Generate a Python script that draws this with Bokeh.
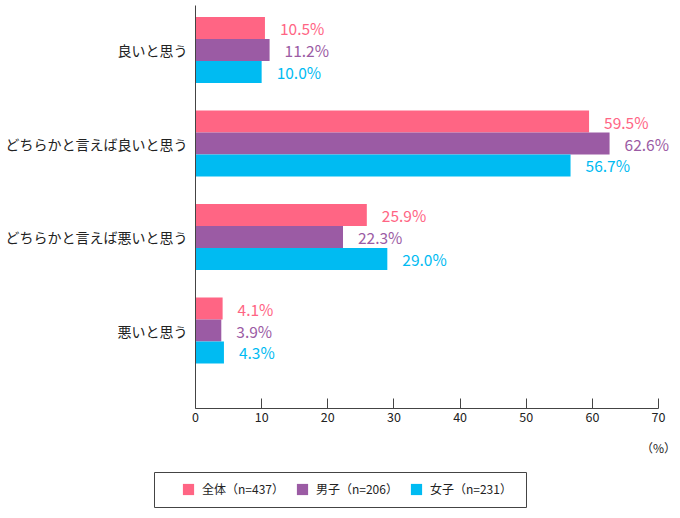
from bokeh.plotting import figure
from bokeh.layouts import column, row
from bokeh.models import (Range1d, FixedTicker, Legend, LegendItem, LabelSet,
                          ColumnDataSource, LinearAxis, Spacer)
from bokeh.core.properties import value
from bokeh.embed import file_html
from bokeh.resources import INLINE

# Survey answers (percent), one list per respondent group
categories = ["良いと思う", "どちらかと言えば良いと思う", "どちらかと言えば悪いと思う", "悪いと思う"]
series_names = ["全体（n=437）", "男子（n=206）", "女子（n=231）"]
all_vals = [10.5, 59.5, 25.9, 4.1]
boys_vals = [11.2, 62.6, 22.3, 3.9]
girls_vals = [10.0, 56.7, 29.0, 4.3]
x_ticks = [0, 10, 20, 30, 40, 50, 60, 70]

colors = ["#FF6584", "#9B5BA4", "#00BBF2"]
FONT = "Noto Sans CJK JP"
BAR_H = 0.235
AXIS_COLOR = "#444444"
TEXT_COLOR = "#222222"

# Frame runs a little past 70 so the longest value labels are not cut off;
# the axis itself stops at 70 through its bounds.
p = figure(width=680, height=470, output_backend="svg", toolbar_location=None,
           x_range=Range1d(0, 73.02), y_range=Range1d(3.834, -0.476),
           min_border_left=195, min_border_right=2, min_border_top=5,
           min_border_bottom=62)
p.outline_line_color = None
p.xgrid.visible = False
p.ygrid.visible = False

renderers = []
for i, (vals, col) in enumerate(zip([all_vals, boys_vals, girls_vals], colors)):
    offset = (i - 1) * BAR_H
    src = ColumnDataSource(dict(
        y=[k + offset for k in range(len(categories))],
        v=vals,
        lbl=[f"{v:.1f}%" for v in vals],
    ))
    r = p.hbar(y="y", right="v", left=0, height=BAR_H, source=src,
               fill_color=col, line_color=None)
    renderers.append(r)
    p.add_layout(LabelSet(x="v", y="y", text="lbl", source=src, x_offset=15,
                          text_align="left", text_baseline="middle",
                          text_color=col, text_font=value(FONT),
                          text_font_size="15.5px"))

# Value axis
xa = p.xaxis[0]
xa.ticker = FixedTicker(ticks=x_ticks)
xa.bounds = (0, 70)
xa.major_tick_in = 10
xa.major_tick_out = 0
xa.minor_tick_line_color = None
xa.axis_line_color = AXIS_COLOR
xa.major_tick_line_color = AXIS_COLOR
xa.major_label_text_font = FONT
xa.major_label_text_font_size = "12.5px"
xa.major_label_text_color = TEXT_COLOR
xa.major_label_standoff = 3

# Unit note under the last tick
unit_axis = LinearAxis(ticker=FixedTicker(ticks=[70]),
                       major_label_overrides={70: "（%）"},
                       axis_line_color=None, major_tick_line_color=None,
                       minor_tick_line_color=None, major_tick_in=0,
                       major_tick_out=0, major_label_standoff=14,
                       major_label_text_font=FONT,
                       major_label_text_font_size="12px",
                       major_label_text_color=TEXT_COLOR)
p.add_layout(unit_axis, "below")

# Category axis
ya = p.yaxis[0]
ya.ticker = FixedTicker(ticks=list(range(len(categories))))
ya.major_label_overrides = {k: c for k, c in enumerate(categories)}
ya.major_tick_in = 0
ya.major_tick_out = 0
ya.minor_tick_line_color = None
ya.axis_line_color = AXIS_COLOR
ya.major_label_text_font = FONT
ya.major_label_text_font_size = "14px"
ya.major_label_text_color = TEXT_COLOR
ya.major_label_standoff = 8

# Boxed legend underneath: a small plot whose outline is the legend frame.
# The swatch renderers are zero-length bars that only supply legend glyphs.
leg = figure(width=374, height=37, output_backend="svg", toolbar_location=None,
             x_range=Range1d(0, 1), y_range=Range1d(0, 1),
             x_axis_type=None, y_axis_type=None, min_border=1)
leg.outline_line_color = AXIS_COLOR
leg.xgrid.visible = False
leg.ygrid.visible = False
swatches = [leg.hbar(y=[0.5], left=[0], right=[0], height=0.5, fill_color=c,
                     line_color=None) for c in colors]
legend = Legend(items=[LegendItem(label=n, renderers=[r])
                       for n, r in zip(series_names, swatches)],
                location=(27, 10), orientation="horizontal",
                glyph_width=14, glyph_height=14, label_standoff=7,
                label_width=80, label_height=14, spacing=11, padding=0,
                border_line_alpha=0, background_fill_alpha=0, margin=0,
                label_text_font=FONT, label_text_font_size="12px",
                label_text_color=TEXT_COLOR)
leg.add_layout(legend)

page = column(p, Spacer(height=1),
              row(Spacer(width=153), leg))

open("out.html", "w").write(file_html(page, INLINE))
